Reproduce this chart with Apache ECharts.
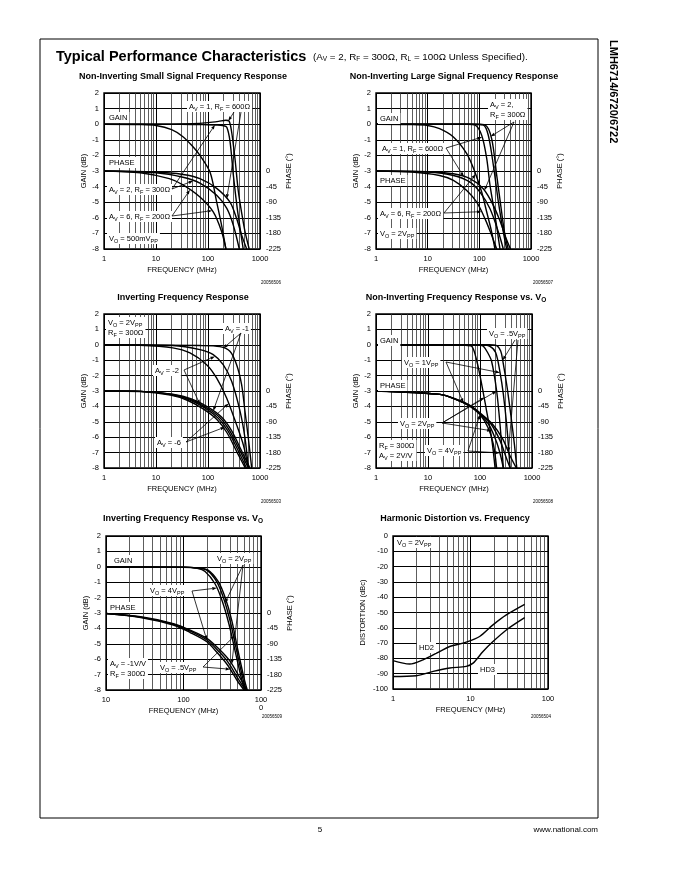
<!DOCTYPE html>
<html><head><meta charset="utf-8">
<script src="https://cdn.jsdelivr.net/npm/echarts@6/dist/echarts.min.js"></script>
<style>html,body{margin:0;padding:0;background:#fff}#c{width:680px;height:880px}</style>
</head><body><div id="c"></div>
<script>
const FONT = '"Liberation Sans", Arial, Helvetica, sans-serif';

// ---------- DATA (frequency MHz, gain dB / phase deg / distortion dBc) ----------
// Panel 1: Non-Inverting Small Signal
const c1_gain_av1 = [[1,0],[20,0],[50,0.03],[100,0.1],[160,0.18],[220,0.25],[255,0.2],[285,-0.5],[330,-2.2],[383,-4.3],[450,-5.8],[516,-6.9],[620,-8]];
const c1_gain_av2 = [[1,0],[30,0],[80,-0.03],[150,-0.05],[200,-0.1],[230,-0.2],[265,-1.1],[308,-3.3],[365,-5.4],[420,-6.8],[475,-8]];
const c1_gain_av6 = [[1,0],[5,-0.02],[10,-0.08],[20,-0.35],[33,-0.8],[50,-1.4],[70,-2.0],[110,-3.1],[147,-5.0],[183,-6.5],[221,-8]];
const c1_phase_av1 = [[1,0],[10,-3],[33,-10],[70,-22],[147,-50],[265,-90],[356,-138],[444,-185],[555,-225]];
const c1_phase_av2 = [[1,0],[10,-5],[33,-18],[70,-35],[147,-70],[230,-108],[308,-157],[400,-225]];
const c1_phase_av6 = [[1,0],[5,-5],[18,-22],[33,-40],[70,-75],[126,-118],[183,-175],[221,-225]];
// Panel 2: Non-Inverting Large Signal
const c2_gain_av6 = [[1,0],[5,-0.02],[10,-0.08],[17,-0.29],[31.5,-0.82],[57,-1.89],[82,-3.06],[111,-4.35],[139,-5.63],[173,-6.9],[200,-8]];
const c2_gain_av1 = [[1,0],[60,0],[82,-0.05],[111,-0.71],[139,-2.2],[161,-3.92],[201,-5.84],[251,-8]];
const c2_gain_av2a = [[1,0],[80,0],[119,-0.05],[149,-0.71],[187,-2.64],[234,-4.99],[291,-6.9],[338,-8]];
const c2_gain_av2b = [[1,0],[90,0],[129,-0.05],[173,-0.93],[217,-3.28],[270,-5.63],[314,-7.12],[363,-8]];
const c2_phase_a = [[1,0],[10,-2],[31.5,-8],[66,-22],[119,-51],[187,-99],[260,-150],[330,-195],[400,-225]];
const c2_phase_b = [[1,0],[10,-3],[31.5,-13],[66,-32],[103,-61],[161,-109],[234,-176],[291,-225]];
const c2_phase_c = [[1,0],[5,-3],[17,-13],[31.5,-27],[57,-56],[89,-90],[129,-138],[173,-185],[217,-225]];
// Panel 3: Inverting
const c3_gain_av6 = [[1,0],[4.9,-0.03],[21,-0.2],[45,-0.53],[94,-1.29],[146,-2.15],[228,-3.45],[355,-5.2],[478,-6.5],[596,-8]];
const c3_gain_av2 = [[1,0],[21,-0.05],[70,-0.31],[126,-0.64],[196,-1.29],[285,-2.37],[414,-4.32],[514,-6.05],[596,-8]];
const c3_gain_av1 = [[1,0],[70,-0.05],[170,-0.12],[264,-0.42],[355,-1.29],[443,-2.59],[514,-4.32],[596,-6.05],[692,-8]];
const c3_phase_a = [[1,0],[5,-1],[20,-11],[43,-25],[88,-50],[158,-80],[245,-118],[385,-176],[550,-225]];
const c3_phase_b = [[1,0],[5,-1],[21,-10],[45,-24],[94,-49],[170,-78],[264,-117],[414,-175],[596,-225]];
const c3_phase_c = [[1,0],[5,-1],[22,-10],[48,-23],[100,-47],[182,-76],[282,-115],[440,-174],[640,-225]];
const c3_phase_d = [[1,0],[5,-1.5],[19,-12],[40,-27],[82,-53],[150,-84],[232,-122],[365,-180],[520,-225]];
// Panel 4: Non-Inverting vs VO
const c4_gain_4v = [[1,0],[30,0],[48,-0.02],[69,-0.1],[87,-1.07],[108,-2.58],[134,-4.3],[167,-6.05],[195,-8]];
const c4_gain_2v = [[1,0],[60,0],[100,-0.03],[116,-0.1],[140,-0.5],[167,-1.07],[209,-3.0],[243,-5.2],[281,-8]];
const c4_gain_1v = [[1,0],[100,0],[155,-0.1],[200,-0.5],[243,-1.81],[281,-3.2],[326,-5.2],[379,-8]];
const c4_gain_05v = [[1,0],[150,0],[209,-0.05],[250,-0.4],[273,-1.0],[330,-2.7],[400,-4.8],[460,-6.5],[510,-8]];
const c4_phase_4v = [[1,0],[17,-10],[35,-25],[64,-44],[100,-69],[144,-108],[181,-156],[209,-225]];
const c4_phase_2v = [[1,0],[17,-10],[35,-25],[64,-44],[100,-68],[150,-100],[209,-150],[250,-190],[281,-225]];
const c4_phase_1v = [[1,0],[17,-10],[35,-25],[64,-43],[100,-66],[160,-95],[243,-145],[320,-195],[380,-225]];
const c4_phase_05v = [[1,0],[17,-10],[35,-24],[64,-42],[100,-64],[170,-95],[273,-140],[380,-190],[500,-225]];
// Panel 5: Inverting vs VO
const c5_gain_2v = [[10,0],[100,-0.02],[150,-0.08],[200,-0.22],[269,-0.98],[330,-2.06],[402,-3.57],[489,-5.52],[596,-7.46],[640,-8]];
const c5_gain_4v = [[10,0],[100,-0.03],[150,-0.1],[190,-0.3],[255,-1.1],[315,-2.2],[385,-3.7],[470,-5.6],[575,-7.5],[620,-8]];
const c5_gain_05v = [[10,0],[100,-0.02],[150,-0.07],[205,-0.2],[280,-0.95],[345,-2.0],[420,-3.5],[505,-5.45],[615,-7.4],[665,-8]];
const c5_phase_a = [[10,-1.4],[28,-11],[74,-31],[122,-50],[200,-74],[296,-108],[402,-142],[540,-191],[660,-225]];
const c5_phase_b = [[10,-1.6],[28,-12],[74,-33],[122,-53],[200,-79],[285,-112],[385,-147],[515,-195],[630,-225]];
const c5_phase_c = [[10,-1.8],[28,-13],[74,-35],[122,-57],[200,-84],[275,-117],[370,-152],[495,-198],[605,-225]];
// Panel 6: Harmonic distortion
const hd2 = [[1,-81.5],[1.64,-83.7],[2.44,-80.9],[4.0,-75.5],[5.4,-72.2],[8.8,-69.4],[13.1,-65.7],[19.5,-58.1],[29,-51.6],[50,-44.7]];
const hd3 = [[1,-91.8],[2.0,-91.3],[3.3,-88.5],[5.4,-86.3],[8.8,-85.2],[10.8,-83.1],[14.5,-75.5],[19.5,-69],[29,-61.4],[50,-53.4]];

// grid line frequencies and tick labels
const minorA = [2,3,4,5,6,7,8,9,20,30,40,50,60,70,80,90,200,300,400,500,600,700,800,900];
const minorB = [20,30,40,50,60,70,80,90,200,300,400,500,600,700,800,900];
const minorC = [2,3,4,5,6,7,8,9,20,30,40,50,60,70,80,90];
const phaseTickLabels = [0,-45,-90,-135,-180,-225];

// ---------- LAYOUT ----------
const layout = [
  {left:104, top:93, width:156, height:156},
  {left:376, top:93, width:155, height:156},
  {left:104, top:314, width:156, height:154},
  {left:376, top:314, width:156, height:154},
  {left:106, top:536, width:155, height:154},
  {left:393, top:536, width:155, height:153}
];
const panels = [
  {x:[1,1000], minor:minorA, gain:[c1_gain_av1,c1_gain_av2,c1_gain_av6], phase:[c1_phase_av1,c1_phase_av2,c1_phase_av6]},
  {x:[1,1000], minor:minorA, gain:[c2_gain_av6,c2_gain_av1,c2_gain_av2a,c2_gain_av2b], phase:[c2_phase_a,c2_phase_b,c2_phase_c]},
  {x:[1,1000], minor:minorA, gain:[c3_gain_av6,c3_gain_av2,c3_gain_av1], phase:[c3_phase_a,c3_phase_b,c3_phase_c,c3_phase_d]},
  {x:[1,1000], minor:minorA, gain:[c4_gain_4v,c4_gain_2v,c4_gain_1v,c4_gain_05v], phase:[c4_phase_4v,c4_phase_2v,c4_phase_1v,c4_phase_05v]},
  {x:[10,1000], minor:minorB, gain:[c5_gain_2v,c5_gain_4v,c5_gain_05v], phase:[c5_phase_a,c5_phase_b,c5_phase_c], wrap1000:true},
  {x:[1,100], minor:minorC, gain:[hd2,hd3], phase:[], dist:true}
];
const titles = [
  {t:'Non-Inverting Small Signal Frequency Response', x:183, y:77},
  {t:'Non-Inverting Large Signal Frequency Response', x:454, y:77},
  {t:'Inverting Frequency Response', x:183, y:298},
  {t:'Non-Inverting Frequency Response vs. V{o|O}', x:456, y:298},
  {t:'Inverting Frequency Response vs. V{o|O}', x:183, y:519},
  {t:'Harmonic Distortion vs. Frequency', x:455, y:519}
];
const ids = [['20056506',271,283],['20056507',543,283],['20056503',271,502],['20056508',543,502],['20056509',272,717],['20056504',541,717]];

// annotations: label box pos relative to grid, arrows [startX, startY, series, freq, axis(0 left/1 right)]
const notes = [
  [
    {t:'GAIN', x:3, y:19},
    {t:'A{s|V} = 1, R{s|F} = 600Ω', x:83, y:8, arrows:[[130,19,c1_gain_av1,246,0],[137,19,c1_phase_av1,229,1]]},
    {t:'PHASE', x:3, y:64},
    {t:'A{s|V} = 2, R{s|F} = 300Ω', x:3, y:91, arrows:[[68,96,c1_gain_av2,136,0],[68,96,c1_phase_av2,52,1]]},
    {t:'A{s|V} = 6, R{s|F} = 200Ω', x:3, y:118, arrows:[[68,123,c1_phase_av6,45,1],[68,123,c1_phase_av6,120,1]]},
    {t:'V{s|O} = 500mV{s|PP}', x:3, y:140}
  ],
  [
    {t:'GAIN', x:2, y:20},
    {t:'A{s|V} = 2,\nR{s|F} = 300Ω', x:112, y:6, arrows:[[138,29,c2_gain_av2b,165,0],[138,29,c2_phase_a,125,1]]},
    {t:'A{s|V} = 1, R{s|F} = 600Ω', x:4, y:50, arrows:[[70,55,c2_gain_av1,113,0],[70,55,c2_phase_a,50,1]]},
    {t:'PHASE', x:2, y:82},
    {t:'A{s|V} = 6, R{s|F} = 200Ω', x:2, y:115, arrows:[[68,120,c2_gain_av6,85,0],[68,120,c2_phase_c,110,1]]},
    {t:'V{s|O} = 2V{s|PP}', x:2, y:135}
  ],
  [
    {t:'V{s|O} = 2V{s|PP}\nR{s|F} = 300Ω', x:2, y:3},
    {t:'A{s|V} = -1', x:119, y:9, arrows:[[137,19,c3_gain_av1,197,0],[137,19,c3_phase_c,126,1]]},
    {t:'A{s|V} = -2', x:49, y:51, arrows:[[80,56,c3_gain_av2,136,0],[80,56,c3_phase_b,70,1]]},
    {t:'A{s|V} = -6', x:51, y:123, arrows:[[82,128,c3_gain_av6,250,0],[82,128,c3_phase_a,212,1]]}
  ],
  [
    {t:'GAIN', x:2, y:21},
    {t:'V{s|O} = .5V{s|PP}', x:111, y:14, arrows:[[139,26,c4_gain_05v,273,0],[142,26,c4_phase_05v,351,1]]},
    {t:'V{s|O} = 1V{s|PP}', x:26, y:43, arrows:[[70,48,c4_phase_1v,48,1],[70,48,c4_gain_1v,243,0]]},
    {t:'PHASE', x:2, y:66},
    {t:'V{s|O} = 2V{s|PP}', x:22, y:104, arrows:[[66,109,c4_gain_4v,120,0],[66,109,c4_gain_2v,209,0],[66,109,c4_phase_2v,167,1]]},
    {t:'R{s|F} = 300Ω\nA{s|V} = 2V/V', x:1, y:126},
    {t:'V{s|O} = 4V{s|PP}', x:49, y:131, arrows:[[92,137,c4_phase_4v,100,1],[92,137,c4_phase_2v,240,1]]}
  ],
  [
    {t:'GAIN', x:6, y:19},
    {t:'V{s|O} = 2V{s|PP}', x:109, y:17, arrows:[[137,29,c5_gain_2v,343,0],[137,29,c5_phase_a,420,1]]},
    {t:'V{s|O} = 4V{s|PP}', x:42, y:49, arrows:[[86,55,c5_gain_4v,269,0],[86,55,c5_phase_b,200,1]]},
    {t:'PHASE', x:2, y:66},
    {t:'A{s|V} = -1V/V\nR{s|F} = 300Ω', x:2, y:122},
    {t:'V{s|O} = .5V{s|PP}', x:52, y:126, arrows:[[97,131,c5_gain_05v,460,0],[97,131,c5_phase_c,400,1]]}
  ],
  [
    {t:'V{s|O} = 2V{s|PP}', x:2, y:1},
    {t:'HD2', x:24, y:106},
    {t:'HD3', x:85, y:128}
  ]
];

// ---------- BUILD ----------
const chart = echarts.init(document.getElementById('c'));
const Lidx = [], Ridx = [];
const grids = [], xAxes = [], yAxes = [], series = [];
const lblStyle = {fontSize:7.5, color:'#000', fontFamily:FONT};

layout.forEach((g, i) => {
  const p = panels[i];
  grids.push({left:g.left, top:g.top, width:g.width, height:g.height, show:true, borderColor:'#000', borderWidth:1.4, backgroundColor:'rgba(0,0,0,0)'});
  xAxes.push({
    type:'log', logBase:10, gridIndex:i, min:p.x[0], max:p.x[1],
    name:'FREQUENCY (MHz)', nameLocation:'middle', nameGap:17, nameMoveOverlap:false, nameTextStyle:lblStyle,
    axisLine:{show:false}, axisTick:{show:false},
    splitLine:{show:true, lineStyle:{color:'#000', width:1}},
    axisLabel:Object.assign({margin:6, lineHeight:8, showMinLabel:true, showMaxLabel:true,
      formatter:v => { const r = Math.round(v); return (p.wrap1000 && r === 1000) ? '100\n0' : String(r); }}, lblStyle)
  });
  Lidx.push(yAxes.length);
  yAxes.push(p.dist ? {
    type:'value', gridIndex:i, position:'left', min:-100, max:0, interval:10,
    name:'DISTORTION (dBc)', nameLocation:'middle', nameRotate:90, nameGap:26, nameTextStyle:lblStyle,
    axisLine:{show:false}, axisTick:{show:false},
    splitLine:{show:true, lineStyle:{color:'#000', width:1}},
    axisLabel:Object.assign({margin:5}, lblStyle)
  } : {
    type:'value', gridIndex:i, position:'left', min:-8, max:2, interval:1,
    name:'GAIN (dB)', nameLocation:'middle', nameRotate:90, nameGap:13, nameTextStyle:lblStyle,
    axisLine:{show:false}, axisTick:{show:false},
    splitLine:{show:true, lineStyle:{color:'#000', width:1}},
    axisLabel:Object.assign({margin:5}, lblStyle)
  });
  if (!p.dist) {
    Ridx.push(yAxes.length);
    yAxes.push({
      type:'value', gridIndex:i, position:'right', min:-225, max:225, interval:45,
      name:'PHASE (°)', nameLocation:'middle', nameRotate:90, nameGap:21, nameTextStyle:lblStyle,
      axisLine:{show:false}, axisTick:{show:false}, splitLine:{show:false},
      axisLabel:Object.assign({margin:6, formatter:v => phaseTickLabels.indexOf(v) >= 0 ? String(v) : ''}, lblStyle)
    });
  } else Ridx.push(null);

  series.push({
    type:'line', xAxisIndex:i, yAxisIndex:Lidx[i], data:[], z:1, silent:true,
    markLine:{silent:true, symbol:['none','none'], label:{show:false}, animation:false,
      lineStyle:{color:'#333', width:0.8, type:'solid'},
      data:p.minor.map(f => ({xAxis:f}))}
  });
  const mk = (d, yi) => ({type:'line', xAxisIndex:i, yAxisIndex:yi, data:d, smooth:0.3, showSymbol:false, symbol:'none',
    lineStyle:{color:'#000', width:1.4}, z:5, silent:true});
  p.gain.forEach(d => series.push(mk(d, Lidx[i])));
  p.phase.forEach(d => series.push(mk(d, Ridx[i])));
});

chart.setOption({animation:false, grid:grids, xAxis:xAxes, yAxis:yAxes, series:series});

// ---------- GRAPHICS ----------
function interp(d, f) {
  const lf = Math.log10(f);
  for (let k = 0; k < d.length - 1; k++) {
    const a = Math.log10(d[k][0]), b = Math.log10(d[k+1][0]);
    if (lf >= a && lf <= b) { const t = (lf - a) / (b - a); return d[k][1] + t * (d[k+1][1] - d[k][1]); }
  }
  return d[d.length-1][1];
}
const rich = {
  s:{fontSize:5.5, fontFamily:FONT, fill:'#000', verticalAlign:'bottom', lineHeight:6},
  o:{fontSize:6.5, fontFamily:FONT, fontWeight:'bold', fill:'#000', verticalAlign:'bottom', lineHeight:7}
};
const gfx = [];
gfx.push({type:'rect', shape:{x:40, y:39, width:558, height:779}, style:{fill:'none', stroke:'#000', lineWidth:1}, z:50});
gfx.push({type:'text', x:56, y:57, style:{text:'Typical Performance Characteristics', fontSize:14.5, fontWeight:'bold', fontFamily:FONT, fill:'#000', verticalAlign:'middle'}, z:50});
gfx.push({type:'text', x:313, y:57, style:{text:'(A{s|V} = 2, R{s|F} = 300Ω, R{s|L} = 100Ω Unless Specified).', fontSize:9.8, fontFamily:FONT, fill:'#000', verticalAlign:'middle', lineHeight:11,
  rich:{s:{fontSize:6.5, fontFamily:FONT, fill:'#000', verticalAlign:'bottom', lineHeight:6.5}}}, z:50});
gfx.push({type:'text', x:613, y:40, rotation:-Math.PI/2, style:{text:'LMH6714/6720/6722', fontSize:11, fontWeight:'bold', fontFamily:FONT, fill:'#000', align:'left', verticalAlign:'middle'}, z:50});
gfx.push({type:'text', x:320, y:830, style:{text:'5', fontSize:8, fontFamily:FONT, fill:'#000', align:'center', verticalAlign:'middle'}, z:50});
gfx.push({type:'text', x:598, y:830, style:{text:'www.national.com', fontSize:8, fontFamily:FONT, fill:'#000', align:'right', verticalAlign:'middle'}, z:50});
titles.forEach(t => gfx.push({type:'text', x:t.x, y:t.y, style:{text:t.t, fontSize:9, fontWeight:'bold', fontFamily:FONT, fill:'#000', align:'center', verticalAlign:'middle', lineHeight:11, rich:rich}, z:50}));
ids.forEach(d => gfx.push({type:'text', x:d[1], y:d[2], style:{text:d[0], fontSize:4.5, fontFamily:FONT, fill:'#000', align:'center', verticalAlign:'middle'}, z:50}));

notes.forEach((list, i) => {
  const g = layout[i];
  list.forEach(n => {
    gfx.push({type:'text', x:g.left + n.x, y:g.top + n.y, z:100,
      style:{text:n.t, fontSize:7.5, fontFamily:FONT, fill:'#000', align:'left', verticalAlign:'top', lineHeight:10,
        backgroundColor:'#fff', padding:[1,2,0,2], rich:rich}});
    (n.arrows || []).forEach(a => {
      const sx = g.left + a[0], sy = g.top + a[1];
      const yi = a[4] ? Ridx[i] : Lidx[i];
      const tip = chart.convertToPixel({xAxisIndex:i, yAxisIndex:yi}, [a[3], interp(a[2], a[3])]);
      const dx = tip[0] - sx, dy = tip[1] - sy, len = Math.hypot(dx, dy) || 1;
      const ux = dx / len, uy = dy / len, hl = 4.5, hw = 1.6;
      const bx = tip[0] - ux * hl, by = tip[1] - uy * hl;
      gfx.push({type:'line', shape:{x1:sx, y1:sy, x2:bx, y2:by}, style:{stroke:'#000', lineWidth:0.8}, z:101});
      gfx.push({type:'polygon', shape:{points:[[tip[0], tip[1]], [bx - uy*hw, by + ux*hw], [bx + uy*hw, by - ux*hw]]}, style:{fill:'#000'}, z:101});
    });
  });
});
chart.setOption({graphic:gfx});
</script></body></html>
